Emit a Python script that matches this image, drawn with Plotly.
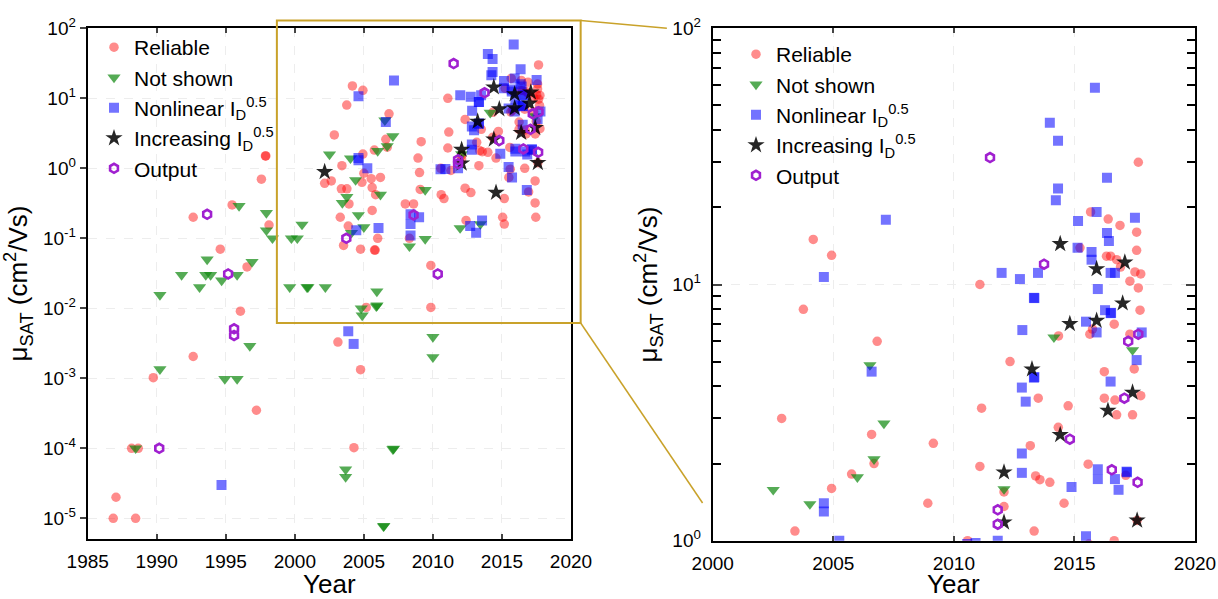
import plotly.graph_objects as go

W, H = 1218, 599

# ---------------- data (year, mobility cm^2/Vs) ----------------
rel_year = [1997.87, 1997.9, 1997.58, 1992.64, 1995.46, 1998.13, 1994.6, 1996.54, 1996.06, 1992.64,
            1989.75, 1997.22, 1988.18, 1988.66, 1987.05, 1986.85, 1988.47,
            2002.16, 2002.64, 2003.37, 2003.77, 2003.92, 2003.29, 2003.87, 2003.53, 2004.76, 2005.77,
            2005.82, 2006.0, 2005.6, 2005.85, 2005.6, 2004.86, 2005.0, 2005.53, 2006.2, 2003.12,
            2004.76, 2005.17, 2009.85, 2004.28, 2009.03, 2009.08, 2008.0, 2008.6, 2008.3, 2009.85,
            2011.3, 2010.6, 2010.8, 2012.33, 2012.75, 2012.4, 2015.17, 2015.05, 2015.17, 2017.4,
            2016.93, 2017.4, 2017.45, 2015.5, 2015.6,
            2004.17, 2004.93, 2003.76, 2006.82, 2002.86, 2006.59, 2009.15, 2006.69, 2005.76, 2004.93,
            2008.92, 2003.41, 2017.65, 2015.67, 2016.4, 2016.89, 2017.58, 2015.23, 2017.58, 2016.33,
            2016.5, 2016.75, 2016.91, 2017.51, 2017.75, 2017.3, 2017.65, 2011.08, 2017.72, 2016.65,
            2015.75, 2015.64, 2014.34, 2017.3, 2012.33, 2016.24, 2017.48, 2016.24, 2016.68, 2017.75,
            2013.5, 2011.15, 2014.74, 2016.75, 2017.41, 2014.33, 2013.17, 2011.08, 2015.57, 2017.13,
            2013.39, 2013.57, 2013.98, 2012.08, 2014.57, 2012.08, 2017.6, 2013.33, 2016.65, 2010.57]
rel_mu = [1.5, 1.5, 0.70, 0.20, 0.30, 0.155, 0.07, 0.039, 0.0091, 0.00205,
          0.00102, 0.00035, 1e-4, 1e-4, 2e-5, 1e-5, 1e-5,
          0.61, 0.66, 0.51, 0.51, 0.31, 0.20, 0.15, 0.079, 0.07, 0.068,
          0.068, 0.10, 0.25, 0.42, 0.53, 0.63, 0.85, 0.71, 0.74, 0.0033,
          0.00133, 0.0103, 0.0103, 1.02e-4, 0.87, 0.50, 0.31, 0.31, 0.10, 0.041,
          0.93, 0.42, 0.37, 0.52, 0.45, 0.18, 0.37, 0.20, 0.16, 0.66,
          0.46, 0.32, 0.20, 0.74, 0.97,
          15.0, 13.0, 8.0, 6.0, 3.0, 2.6, 2.4, 2.0, 1.82, 1.6,
          1.4, 1.09, 30.0, 19.2, 18.0, 17.0, 16.0, 13.9, 13.6, 12.9,
          12.9, 12.5, 11.7, 11.2, 11.0, 10.3, 9.7, 10.0, 7.94, 7.0,
          6.7, 6.4, 6.3, 6.4, 5.0, 4.57, 4.68, 3.6, 3.54, 3.68,
          3.6, 3.29, 3.36, 3.1, 3.1, 2.77, 2.35, 1.95, 1.99, 1.8,
          1.79, 1.73, 1.69, 1.55, 1.4, 1.36, 1.2, 1.09, 1.0, 1.0]

ns_year = [1995.96, 1997.94, 1997.94, 1998.38, 1993.65, 1996.9, 1991.8, 1993.55, 1993.9, 1995.82,
           1993.1, 1994.7, 1990.23, 1996.74, 1990.23, 1994.93, 1995.82, 1988.47, 1999.63, 1999.75,
           2000.18, 2000.52, 2000.88, 2000.95, 2002.21, 2005.94, 2005.9, 2005.95, 2004.81, 2004.88,
           2010.0, 2010.0, 2007.1, 2007.15, 2003.68, 2003.68, 2006.42, 2006.45,
           2003.77, 2003.44, 2004.6, 2005.0, 2004.1, 2006.2, 2004.4, 2009.44, 2008.3, 2009.44,
           2011.97, 2013.44,
           2006.52, 2007.1, 2006.69, 2006.0, 2002.51, 2004.03, 2014.15, 2017.41, 2012.08]
ns_mu = [0.29, 0.23, 0.13, 0.10, 0.05, 0.046, 0.03, 0.03, 0.03, 0.03,
         0.02, 0.025, 0.0155, 0.0029, 0.00135, 0.00098, 0.00098, 1e-4, 0.02, 0.10,
         0.10, 0.157, 0.02, 0.02, 0.02, 0.0174, 0.0107, 0.011, 0.01, 0.0079,
         0.0039, 0.002, 9.7e-5, 9.9e-5, 5e-5, 3.9e-5, 7.7e-6, 7.8e-6,
         0.39, 0.32, 0.215, 0.144, 0.12, 0.42, 0.68, 0.49, 0.077, 0.098,
         0.14, 0.16,
         4.85, 2.87, 2.08, 1.77, 1.58, 1.39, 6.22, 5.55, 1.59]

nl_year = [1994.69, 2003.87, 2004.26, 2004.45, 2006.06, 2008.38, 2008.38, 2009.0, 2008.38,
           2010.55, 2010.9, 2012.7, 2013.56, 2013.13, 2015.73, 2016.8,
           2007.18, 2004.61, 2006.59, 2004.61, 2004.61, 2005.25,
           2015.85, 2013.98, 2014.32, 2016.35, 2014.32, 2014.23, 2015.92, 2017.51, 2015.15, 2016.35,
           2016.43, 2015.13, 2015.71, 2015.71, 2016.5, 2016.68, 2015.97, 2011.98, 2012.74, 2013.49,
           2013.32, 2013.34, 2016.27, 2016.5, 2016.52, 2015.48, 2012.84, 2015.92, 2017.79, 2017.58,
           2013.32, 2013.34, 2016.5, 2012.82, 2012.98, 2012.82, 2012.82, 2015.97, 2015.97, 2017.16,
           2017.18, 2016.68, 2014.88, 2016.83, 2015.48, 2011.82]
nl_mu = [3e-5, 0.0047, 0.0031, 0.13, 0.14, 0.22, 0.16, 0.20, 0.11,
         0.97, 0.98, 0.15, 0.18, 0.12, 0.74, 0.49,
         17.9, 10.7, 4.57, 1.4, 1.3, 1.0,
         58.6, 42.8, 36.4, 26.1, 23.7, 21.3, 19.2, 18.2, 17.7, 15.9,
         14.8, 13.9, 13.4, 12.5, 11.1, 11.1, 9.6, 11.1, 10.5, 11.1,
         8.87, 8.85, 7.94, 7.73, 7.75, 7.16, 6.64, 6.5, 6.5, 5.07,
         4.33, 4.35, 4.18, 3.96, 3.49, 2.19, 1.84, 1.9, 1.74, 1.86,
         1.85, 1.74, 1.62, 1.58, 1.04, 1.0]

inc_year = [2002.16, 2014.57, 2014.41, 2017.09, 2015.92, 2017.0, 2015.92, 2014.81, 2013.24, 2017.41,
            2016.39, 2014.41, 2012.08, 2012.08, 2017.6]
inc_mu = [0.89, 0.45, 14.4, 12.2, 11.5, 8.45, 7.23, 7.02, 4.67, 3.79,
          3.22, 2.59, 1.85, 1.18, 1.2]

out_year = [1993.65, 1995.17, 1995.6, 1995.6, 1990.18, 2003.73, 2008.6, 2010.35,
            2011.5, 2013.74, 2017.65, 2017.23, 2017.07, 2014.81, 2016.55, 2017.62, 2011.82, 2011.82]
out_mu = [0.22, 0.031, 0.0051, 0.0041, 1e-4, 0.10, 0.215, 0.031,
          31.3, 12.0, 6.4, 6.0, 3.6, 2.49, 1.89, 1.69, 1.32, 1.16]

left_xticks = [1985, 1990, 1995, 2000, 2005, 2010, 2015, 2020]
left_yexp = [-5, -4, -3, -2, -1, 0, 1, 2]
right_xticks = [2000, 2005, 2010, 2015, 2020]
right_yexp = [0, 1, 2]

# ---------------- layout geometry ----------------
LX = [87.7 / W, 571.0 / W]
RX = [712.7 / W, 1195.0 / W]
LY = [1 - 538.7 / H, 1 - 28.3 / H]
RY = [1 - 540.7 / H, 1 - 28.3 / H]
LXR = [1985, 2020]
LYR = [-5.291, 2]
RXR = [2000, 2020]
RYR = [0, 2]

FONT = "Liberation Sans, Arial, Helvetica, sans-serif"
GOLD = "#C9A22A"

series = [
    ("Reliable", rel_year, rel_mu,
     dict(symbol="circle", size=9.5, color="#ff0000", opacity=0.45)),
    ("Not shown", ns_year, ns_mu,
     dict(symbol="triangle-down", size=11.5, color="#138a13", opacity=0.72)),
    ("Nonlinear I<sub>D</sub><sup>0.5</sup>", nl_year, nl_mu,
     dict(symbol="square", size=10, color="#0000ff", opacity=0.55)),
    ("Increasing I<sub>D</sub><sup>0.5</sup>", inc_year, inc_mu,
     dict(symbol="star", size=13, color="#000000", opacity=0.85)),
    ("Output", out_year, out_mu,
     dict(symbol="hexagon-open", size=9, color="#a020d0", line=dict(width=2.6, color="#a020d0"))),
]

fig = go.Figure()
for name, xs, ys, mk in series:
    fig.add_trace(go.Scatter(x=xs, y=ys, mode="markers", name=name, marker=mk,
                             xaxis="x", yaxis="y", legend="legend"))
for name, xs, ys, mk in series:
    fig.add_trace(go.Scatter(x=xs, y=ys, mode="markers", name=name, marker=mk,
                             xaxis="x2", yaxis="y2", legend="legend2"))

tickfont = dict(family=FONT, size=19, color="black")
grid = dict(showgrid=True, gridcolor="#ededed", griddash="dash", gridwidth=1)
line = dict(showline=True, linecolor="black", linewidth=2, automargin=False, zeroline=False)

fig.update_layout(
    width=W, height=H, template="none",
    margin=dict(l=0, r=0, t=0, b=0),
    paper_bgcolor="white", plot_bgcolor="white",
    font=dict(family=FONT, color="black"),
    xaxis=dict(domain=LX, range=LXR, anchor="y", tickvals=left_xticks,
               ticktext=[str(v) for v in left_xticks], ticks="inside", ticklen=5,
               tickwidth=1.5, mirror="ticks", tickfont=tickfont, ticklabelstandoff=4,
               **grid, **line),
    yaxis=dict(domain=LY, type="log", range=LYR, anchor="x",
               tickvals=[10.0 ** e for e in left_yexp],
               ticktext=["10<sup>%d</sup>" % e for e in left_yexp],
               ticks="outside", ticklen=6, tickwidth=1.5, mirror=True, tickfont=tickfont,
               **grid, **line),
    yaxis3=dict(overlaying="y", side="right", anchor="x", type="log", range=LYR,
                tickvals=[10.0 ** e for e in left_yexp], ticks="inside", ticklen=6,
                tickwidth=1.5, showticklabels=False, showgrid=False, showline=False,
                zeroline=False, automargin=False),
    xaxis2=dict(domain=RX, range=RXR, anchor="y2", tickvals=right_xticks,
                ticktext=[str(v) for v in right_xticks], ticks="inside", ticklen=5,
                tickwidth=1.5, mirror="ticks", tickfont=tickfont, ticklabelstandoff=4,
                **grid, **line),
    yaxis2=dict(domain=RY, type="log", range=RYR, anchor="x2",
                tickvals=[10.0 ** e for e in right_yexp],
                ticktext=["10<sup>%d</sup>" % e for e in right_yexp],
                ticks="inside", ticklen=9, tickwidth=1.5, mirror="ticks", tickfont=tickfont,
                ticklabelstandoff=6,
                minor=dict(ticks="inside", ticklen=8, tickwidth=1.5, tickcolor="black",
                           tickvals=[m * 10.0 ** e for e in [0, 1] for m in range(2, 10)],
                           showgrid=False),
                **grid, **line),
    legend=dict(x=94 / W, y=1 - 27 / H, xanchor="left", yanchor="top",
                bgcolor="rgba(0,0,0,0)", font=dict(family=FONT, size=21, color="black"),
                itemsizing="trace", tracegroupgap=0),
    legend2=dict(x=736 / W, y=1 - 34 / H, xanchor="left", yanchor="top",
                 bgcolor="rgba(0,0,0,0)", font=dict(family=FONT, size=21, color="black"),
                 itemsizing="trace", tracegroupgap=0),
    showlegend=True,
)


def to_paper(xv, ly, xr, yr, xd, yd):
    px = xd[0] + (xv - xr[0]) / (xr[1] - xr[0]) * (xd[1] - xd[0])
    py = yd[0] + (ly - yr[0]) / (yr[1] - yr[0]) * (yd[1] - yd[0])
    return px, py


# zoom box on left panel (year, log10 mu)
bx0, by0 = to_paper(1998.7, -2.21, LXR, LYR, LX, LY)
bx1, by1 = to_paper(2020.7, 2.11, LXR, LYR, LX, LY)
# connector end points near right panel
ex0, ey0 = to_paper(1998.1, 2.0, RXR, RYR, RX, RY)
ex1, ey1 = to_paper(1999.58, 0.147, RXR, RYR, RX, RY)

fig.add_shape(type="rect", xref="paper", yref="paper", x0=bx0, y0=by0, x1=bx1, y1=by1,
              line=dict(color=GOLD, width=2), layer="above")
fig.add_shape(type="line", xref="paper", yref="paper", x0=bx1, y0=by1, x1=ex0, y1=ey0,
              line=dict(color=GOLD, width=1.5), layer="above")
fig.add_shape(type="line", xref="paper", yref="paper", x0=bx1, y0=by0, x1=ex1, y1=ey1,
              line=dict(color=GOLD, width=1.5), layer="above")

title_font = dict(family=FONT, size=26, color="black")
ytitle = "\u03bc<sub>SAT</sub> (cm<sup>2</sup>/Vs)"
fig.add_annotation(text="Year", xref="paper", yref="paper", x=(LX[0] + LX[1]) / 2,
                   y=1 - 584 / H, xanchor="center", yanchor="middle", showarrow=False,
                   font=title_font)
fig.add_annotation(text="Year", xref="paper", yref="paper", x=(RX[0] + RX[1]) / 2,
                   y=1 - 584 / H, xanchor="center", yanchor="middle", showarrow=False,
                   font=title_font)
fig.add_annotation(text=ytitle, xref="paper", yref="paper", x=18 / W,
                   y=(LY[0] + LY[1]) / 2, textangle=-90, xanchor="center", yanchor="middle",
                   showarrow=False, font=title_font)
fig.add_annotation(text=ytitle, xref="paper", yref="paper", x=648 / W,
                   y=(RY[0] + RY[1]) / 2, textangle=-90, xanchor="center", yanchor="middle",
                   showarrow=False, font=title_font)

fig.write_html("out.html")
